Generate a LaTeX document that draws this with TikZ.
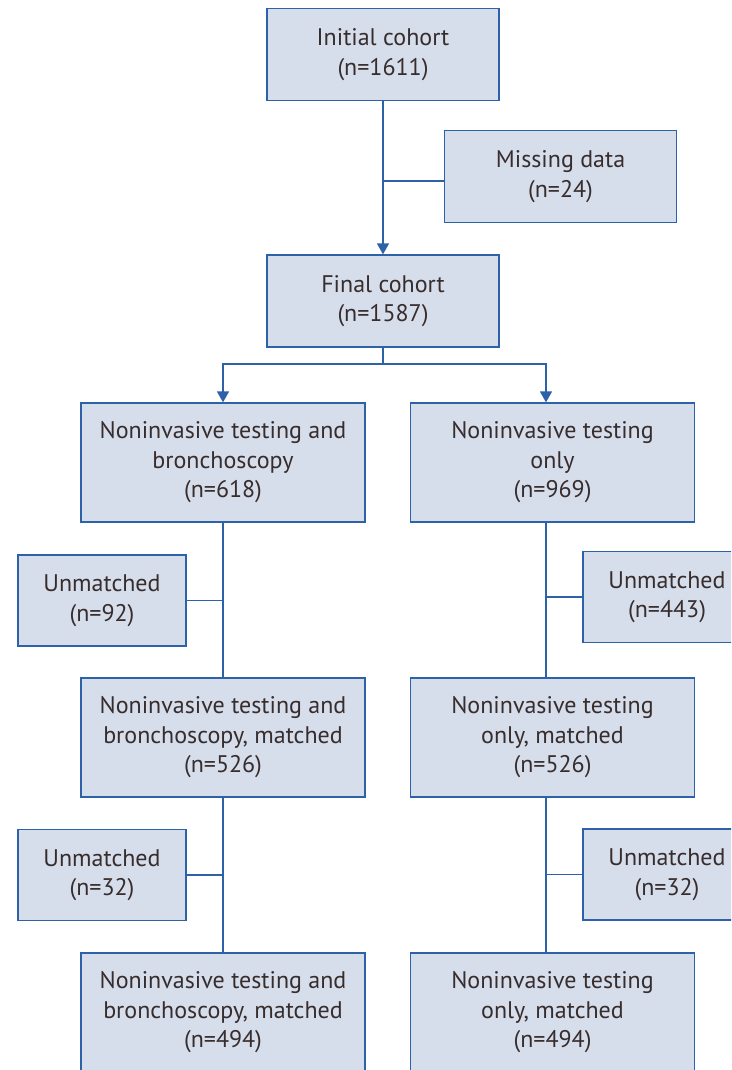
\documentclass[tikz,border=0pt]{standalone}
\usepackage{fontspec}
\setmainfont{PT Sans}
\usetikzlibrary{arrows.meta,positioning}
\definecolor{boxFill}{RGB}{214, 221, 235}
\definecolor{boxLine}{RGB}{46, 98, 168}
\definecolor{boxText}{RGB}{55, 45, 45}

\begin{document}
\begin{tikzpicture}[x=1pt, y=-1pt,
    flowBox/.style={draw=boxLine, fill=boxFill, line width=1.3pt, align=center, text=boxText,
        font=\fontsize{24pt}{29.5pt}\selectfont, inner sep=0pt},
    cohortBox/.style={flowBox, minimum width=232pt, minimum height=92pt},
    armBox/.style={flowBox, minimum width=284pt, minimum height=119pt},
    dropBox/.style={flowBox, minimum width=168pt, minimum height=91pt},
    link/.style={draw=boxLine, line width=1.4pt},
    flowArrow/.style={link, -{Triangle[width=12pt, length=11pt]}}]
    \clip (0,0) rectangle (731,1070);
    \fill[white] (0,0) rectangle (731,1070);

    % cohort selection
    \node[cohortBox] (init) at (383,54.5) {Initial cohort\\(n=1611)};
    \node[cohortBox] (miss) at (560.5,176.5) {Missing data\\(n=24)};
    \node[cohortBox] (final) at (383,301) {Final cohort\\(n=1587)};

    % two arms
    \node[armBox] (bronch) at (223,462.5) {Noninvasive testing and\\bronchoscopy\\(n=618)};
    \node[armBox] (nonInv) at (552.5,462.5) {Noninvasive testing\\only\\(n=969)};
    \node[dropBox] (dropA) at (102,600.5) {Unmatched\\(n=92)};
    \node[dropBox] (dropB) at (667,597) {Unmatched\\(n=443)};
    \node[armBox] (bronchM) at (223,737.5) {Noninvasive testing and\\bronchoscopy, matched\\(n=526)};
    \node[armBox] (nonInvM) at (552.5,737.5) {Noninvasive testing\\only, matched\\(n=526)};
    \node[dropBox] (dropC) at (102,875) {Unmatched\\(n=32)};
    \node[dropBox] (dropD) at (667,874.5) {Unmatched\\(n=32)};
    \node[armBox] (bronchF) at (223,1012.5) {Noninvasive testing and\\bronchoscopy, matched\\(n=494)};
    \node[armBox] (nonInvF) at (552.5,1012.5) {Noninvasive testing\\only, matched\\(n=494)};

    \coordinate (split) at (383,364);
    \coordinate (rightTrunk) at (546,364);
    \coordinate (missJoin) at (445,181);

    \draw[flowArrow] (init.south) -- (final.north);
    \draw[link] (missJoin) -- (init.south |- missJoin);
    \draw[flowArrow] (final.south) -- (split) -| (bronch.north);
    \draw[flowArrow] (split) -- (rightTrunk) -- (rightTrunk |- nonInv.north);

    \draw[link] (bronch.south) -- (bronchM.north);
    \draw[link] (bronchM.south) -- (bronchF.north);
    \draw[link] (rightTrunk |- nonInv.south) -- (rightTrunk |- nonInvM.north);
    \draw[link] (rightTrunk |- nonInvM.south) -- (rightTrunk |- nonInvF.north);
    \draw[link] (dropA.east) -- (bronch.south |- dropA.east);
    \draw[link] (dropC.east) -- (bronch.south |- dropC.east);
    \draw[link] (dropB.west) -- (rightTrunk |- dropB.west);
    \draw[link] (dropD.west) -- (rightTrunk |- dropD.west);
\end{tikzpicture}
\end{document}
